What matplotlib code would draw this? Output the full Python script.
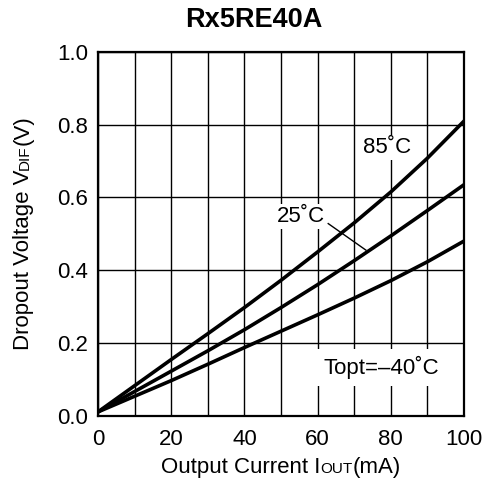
"""Dropout voltage vs output current, Rx5RE40A"""

import matplotlib
matplotlib.use("Agg")
import matplotlib.pyplot as plt

plt.rcParams['font.family'] = ['Liberation Sans', 'DejaVu Sans']

# DATA
i_out = [0, 10, 20, 30, 40, 50, 60, 70, 80, 90, 100]  # [mA]
v_85 = [0.01, 0.082, 0.154, 0.225, 0.297, 0.372, 0.45, 0.53, 0.615, 0.708, 0.81]  # [V]
v_25 = [0.01, 0.066, 0.122, 0.178, 0.236, 0.297, 0.36, 0.426, 0.494, 0.564, 0.635]  # [V]
v_m40 = [0.01, 0.053, 0.096, 0.141, 0.187, 0.232, 0.277, 0.323, 0.371, 0.423, 0.48]  # [V]

x_ticks = [0, 20, 40, 60, 80, 100]
y_ticks = [0.0, 0.2, 0.4, 0.6, 0.8, 1.0]
x_grid = list(range(0, 101, 10))

fig = plt.figure(figsize=(4.92, 4.84), dpi=100)
ax = fig.add_axes([0.1992, 0.1415, 0.7439, 0.751])

ax.set_xlim(0, 100)
ax.set_ylim(0, 1.0)
ax.set_xticks(x_ticks)
ax.set_xticks(x_grid, minor=True)
ax.set_yticks(y_ticks)
ax.set_yticklabels([f"{v:.1f}" for v in y_ticks])
ax.tick_params(which="both", length=0, labelsize=16)
ax.tick_params(axis="x", pad=10)
ax.tick_params(axis="y", pad=7)

# grid: every 10 mA, every 0.2 V
ax.grid(which="both", axis="x", color="black", linewidth=1.0)
ax.grid(which="major", axis="y", color="black", linewidth=1.0)
ax.set_axisbelow(True)
for sp in ax.spines.values():
    sp.set_linewidth(1.6)

ax.plot(i_out, v_85, color="black", linewidth=2.6, zorder=3)
ax.plot(i_out, v_25, color="black", linewidth=2.6, zorder=3)
ax.plot(i_out, v_m40, color="black", linewidth=2.6, zorder=3)

# curve labels
lbl = dict(fontsize=16, ha="center", va="center", zorder=4,
           bbox=dict(facecolor="white", edgecolor="none", pad=1.5))
ax.text(79, 0.738, "85˚C", **lbl)
ax.text(55.4, 0.547, "25˚C", **lbl)
ax.text(77.5, 0.131, "Topt=\u201340˚C", **dict(lbl, bbox=dict(facecolor="white", edgecolor="none", pad=5)))
ax.plot([62.9, 73.2], [0.528, 0.455], color="black", linewidth=1.0, zorder=3)

fig.suptitle("Rx5RE40A", x=0.515, y=0.985, fontsize=19.5, fontweight="bold")

# axis labels with small-caps subscripts, pieced together
fig.canvas.draw()
rend = fig.canvas.get_renderer()


def label_parts(parts, x0, y0, rotation):
    texts = []
    for s, size in parts:
        t = fig.text(0, 0, s, fontsize=size, rotation=rotation,
                     rotation_mode="anchor", ha="left", va="baseline",
                     transform=None)
        texts.append(t)
    lens = []
    for t in texts:
        bb = t.get_window_extent(rend)
        lens.append(bb.height if rotation == 90 else bb.width)
    total = sum(lens)
    pos = -total / 2
    for t, ln in zip(texts, lens):
        if rotation == 90:
            t.set_position((x0, y0 + pos))
        else:
            t.set_position((x0 + pos, y0))
        pos += ln


label_parts([("Output Current I", 16), ("OUT", 11), ("(mA)", 16)],
            281, 484 - 473, 0)
label_parts([("Dropout Voltage V", 16), ("DIF", 11), ("(V)", 16)],
            29, 484 - 233, 90)

fig.savefig("out.png", dpi=100)
